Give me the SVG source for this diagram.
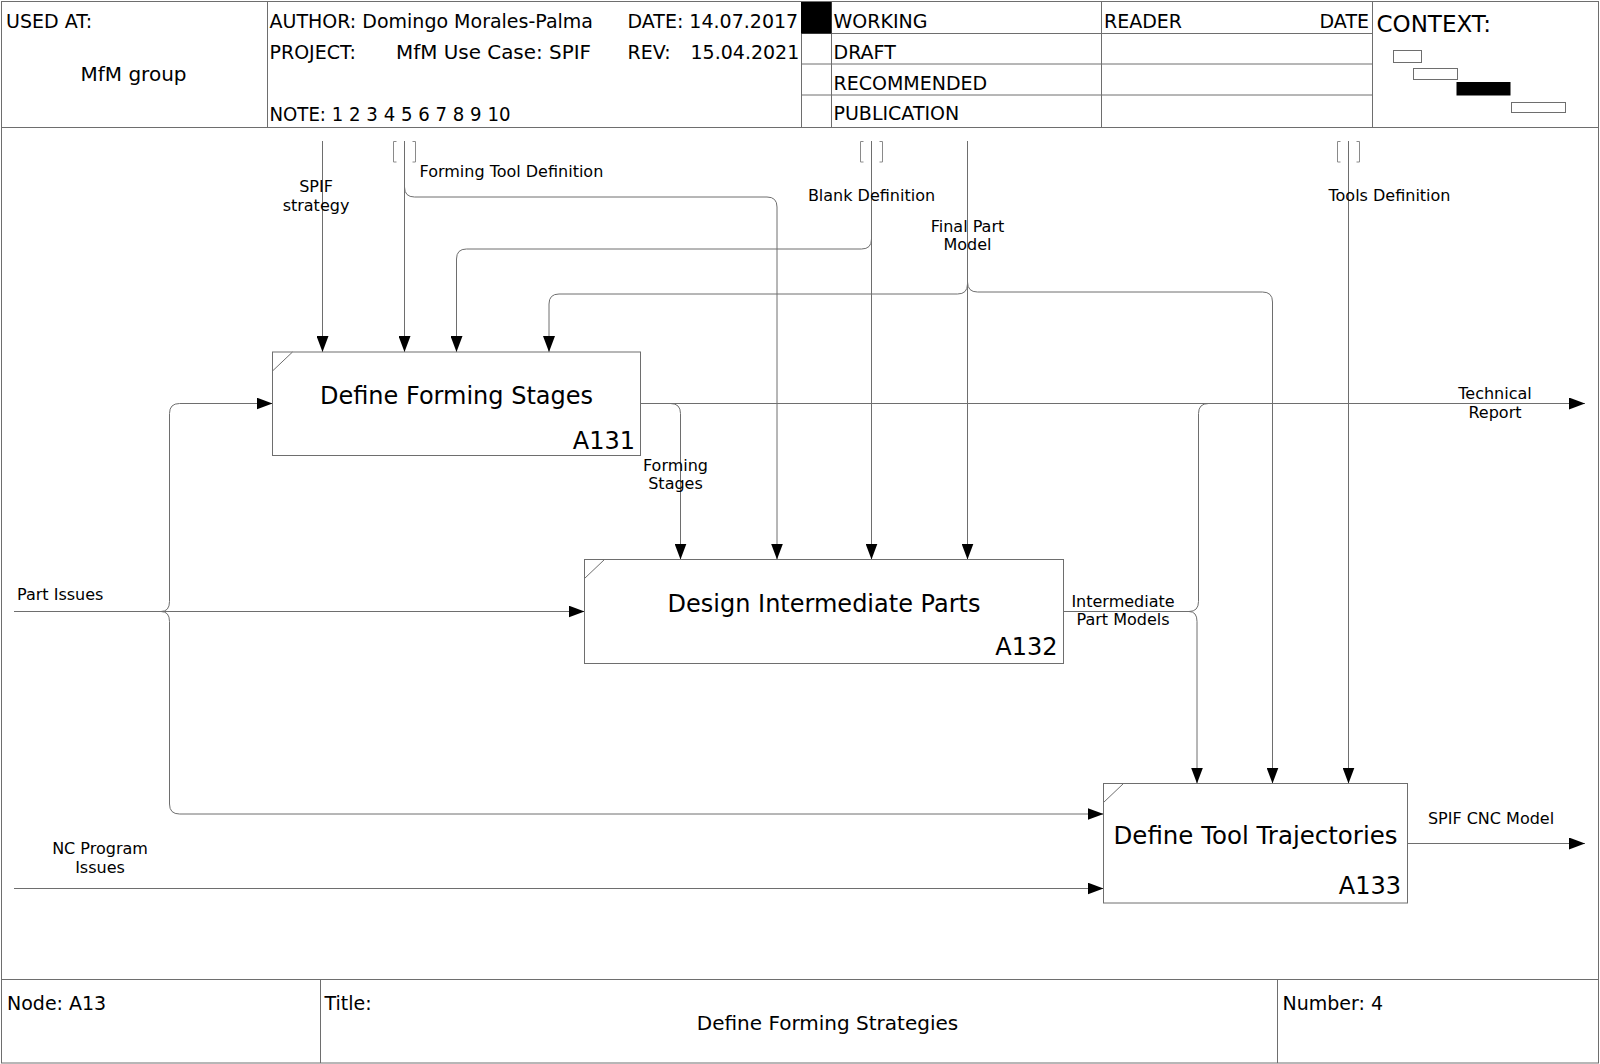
<svg xmlns="http://www.w3.org/2000/svg" width="1600" height="1064" viewBox="0 0 1600 1064">
<style>
text{font-family:"DejaVu Sans",sans-serif;fill:#000}
.hd{font-size:19px}
.lb{font-size:16px}
.nt{font-size:24px}
.fr{fill:none;stroke:#6e6e6e;stroke-width:1}
.box{fill:#fff;stroke:#6e6e6e;stroke-width:1}
.cn{fill:none;stroke:#6e6e6e;stroke-width:1}
.br{fill:none;stroke:#8a8a8a;stroke-width:1}
.m{text-anchor:middle}
.e{text-anchor:end}
</style>
<defs>
<marker id="ah" markerUnits="userSpaceOnUse" markerWidth="16" markerHeight="12" refX="16" refY="6" orient="auto">
<path d="M0,0 L16,6 L0,12 z" fill="#000"/>
</marker>
</defs>
<rect width="1600" height="1064" fill="#fff"/>
<g id="frame">
<rect class="fr" x="1.5" y="1.5" width="1597" height="1061.5"/>
<line class="fr" x1="1.5" y1="127.5" x2="1598.5" y2="127.5"/>
<line class="fr" x1="267.5" y1="1.5" x2="267.5" y2="127.5"/>
<line class="fr" x1="801.5" y1="1.5" x2="801.5" y2="127.5"/>
<line class="fr" x1="831.5" y1="1.5" x2="831.5" y2="127.5"/>
<line class="fr" x1="1101.5" y1="1.5" x2="1101.5" y2="127.5"/>
<line class="fr" x1="1372.5" y1="1.5" x2="1372.5" y2="127.5"/>
<line class="fr" x1="801.5" y1="33.5" x2="1372.5" y2="33.5"/>
<line class="fr" x1="801.5" y1="64" x2="1372.5" y2="64"/>
<line class="fr" x1="801.5" y1="95" x2="1372.5" y2="95"/>
<rect x="801" y="2" width="30.5" height="31.5" fill="#000"/>
<rect class="box" x="1393.5" y="50.5" width="28" height="12"/>
<rect class="box" x="1413.5" y="68.5" width="44" height="11"/>
<rect x="1456.5" y="82" width="54" height="13.5" fill="#000"/>
<rect class="box" x="1511.5" y="102.5" width="54" height="10"/>
<line class="fr" x1="1.5" y1="979.5" x2="1598.5" y2="979.5"/>
<line class="fr" x1="320.5" y1="979.5" x2="320.5" y2="1063"/>
<line class="fr" x1="1277.5" y1="979.5" x2="1277.5" y2="1063"/>
<text class="hd" x="6" y="28">USED AT:</text>
<text x="80.5" y="81" style="font-size:20px" textLength="106" lengthAdjust="spacingAndGlyphs">MfM group</text>
<text class="hd" x="269.5" y="28">AUTHOR: Domingo Morales-Palma</text>
<text class="hd" x="627.5" y="28">DATE: 14.07.2017</text>
<text class="hd" x="269.5" y="58.5">PROJECT:</text>
<text class="hd" x="396" y="58.5" textLength="195" lengthAdjust="spacingAndGlyphs">MfM Use Case: SPIF</text>
<text class="hd" x="627.5" y="58.5">REV:</text>
<text class="hd" x="690.5" y="58.5">15.04.2021</text>
<text class="hd" x="269.5" y="120.5" textLength="241" lengthAdjust="spacingAndGlyphs">NOTE: 1 2 3 4 5 6 7 8 9 10</text>
<text class="hd" x="833.5" y="28">WORKING</text>
<text class="hd" x="833.5" y="58.5">DRAFT</text>
<text class="hd" x="833.5" y="89.5">RECOMMENDED</text>
<text class="hd" x="833.5" y="120">PUBLICATION</text>
<text class="hd" x="1104" y="28">READER</text>
<text class="hd e" x="1369" y="28">DATE</text>
<text x="1376.5" y="32" style="font-size:23px">CONTEXT:</text>
<text class="hd" x="7" y="1010">Node: A13</text>
<text class="hd" x="324.5" y="1010">Title:</text>
<text class="m" x="827.5" y="1029.5" style="font-size:20px">Define Forming Strategies</text>
<text class="hd" x="1282.5" y="1010">Number: 4</text>
</g>
<g id="connectors">
<path class="cn" d="M322.5,141 V352" marker-end="url(#ah)"/>
<path class="cn" d="M404.5,141 V352" marker-end="url(#ah)"/>
<path class="cn" d="M404.5,187 Q404.5,197 414.5,197 H767 Q777,197 777,207 V559.5" marker-end="url(#ah)"/>
<path class="cn" d="M871.5,141 V559.5" marker-end="url(#ah)"/>
<path class="cn" d="M871.5,239 Q871.5,249 861.5,249 H466.5 Q456.5,249 456.5,259 V352" marker-end="url(#ah)"/>
<path class="cn" d="M967.5,141 V559.5" marker-end="url(#ah)"/>
<path class="cn" d="M967.5,284 Q967.5,294 957.5,294 H559 Q549,294 549,304 V352" marker-end="url(#ah)"/>
<path class="cn" d="M967.5,282 Q967.5,292 977.5,292 H1262.5 Q1272.5,292 1272.5,302 V783.5" marker-end="url(#ah)"/>
<path class="cn" d="M1348.5,141 V783.5" marker-end="url(#ah)"/>
<path class="br" d="M396.5,141.5 H393.5 V162 H396.5 M412.5,141.5 H415.5 V162 H412.5"/>
<path class="br" d="M863.5,141.5 H860.5 V162 H863.5 M879.5,141.5 H882.5 V162 H879.5"/>
<path class="br" d="M1340.5,141.5 H1337.5 V162 H1340.5 M1356.5,141.5 H1359.5 V162 H1356.5"/>
<path class="cn" d="M640.5,403.5 H1585" marker-end="url(#ah)"/>
<path class="cn" d="M670.5,403.5 Q680.5,403.5 680.5,413.5 V559.5" marker-end="url(#ah)"/>
<path class="cn" d="M14,611.5 H584.5" marker-end="url(#ah)"/>
<path class="cn" d="M161,611.5 Q169.5,611.5 169.5,601.5 V413.5 Q169.5,403.5 179.5,403.5 H272.5" marker-end="url(#ah)"/>
<path class="cn" d="M161,611.5 Q169.5,611.5 169.5,621.5 V804 Q169.5,814 179.5,814 H1103.5" marker-end="url(#ah)"/>
<path class="cn" d="M14,888.5 H1103.5" marker-end="url(#ah)"/>
<path class="cn" d="M1063.5,611.5 H1189"/>
<path class="cn" d="M1189,611.5 Q1198.5,611.5 1198.5,601.5 V413.5 Q1198.5,403.5 1208.5,403.5"/>
<path class="cn" d="M1189,611.5 Q1197,611.5 1197,621.5 V783.5" marker-end="url(#ah)"/>
<path class="cn" d="M1407.5,843.5 H1585" marker-end="url(#ah)"/>
<text class="lb m" x="316" y="192">SPIF</text>
<text class="lb m" x="316" y="210.5">strategy</text>
<text class="lb" x="419.5" y="176.5">Forming Tool Definition</text>
<text class="lb m" x="871.5" y="201">Blank Definition</text>
<text class="lb m" x="967.5" y="231.5">Final Part</text>
<text class="lb m" x="967.5" y="250">Model</text>
<text class="lb" x="1328.5" y="201">Tools Definition</text>
<text class="lb m" x="1495" y="399">Technical</text>
<text class="lb m" x="1495" y="417.5">Report</text>
<text class="lb m" x="675.5" y="470.5">Forming</text>
<text class="lb m" x="675.5" y="489">Stages</text>
<text class="lb" x="17" y="600">Part Issues</text>
<text class="lb m" x="1123" y="606.5">Intermediate</text>
<text class="lb m" x="1123" y="625">Part Models</text>
<text class="lb m" x="100" y="854">NC Program</text>
<text class="lb m" x="100" y="872.5">Issues</text>
<text class="lb m" x="1491" y="823.5">SPIF CNC Model</text>
</g>
<g id="A131">
<rect class="box" x="272.5" y="352" width="368" height="103.5"/>
<line class="fr" x1="272.5" y1="371" x2="292.5" y2="352"/>
<text class="nt m" x="456.5" y="403.5">Define Forming Stages</text>
<text class="nt e" x="635" y="448.5">A131</text>
</g>
<g id="A132">
<rect class="box" x="584.5" y="559.5" width="479" height="104"/>
<line class="fr" x1="584.5" y1="578.5" x2="604.5" y2="559.5"/>
<text class="nt m" x="824" y="611.5">Design Intermediate Parts</text>
<text class="nt e" x="1057.5" y="655">A132</text>
</g>
<g id="A133">
<rect class="box" x="1103.5" y="783.5" width="304" height="119.5"/>
<line class="fr" x1="1103.5" y1="802.5" x2="1123.5" y2="783.5"/>
<text class="nt m" x="1255.5" y="843.5" textLength="284" lengthAdjust="spacingAndGlyphs">Define Tool Trajectories</text>
<text class="nt e" x="1401" y="894">A133</text>
</g>
</svg>
